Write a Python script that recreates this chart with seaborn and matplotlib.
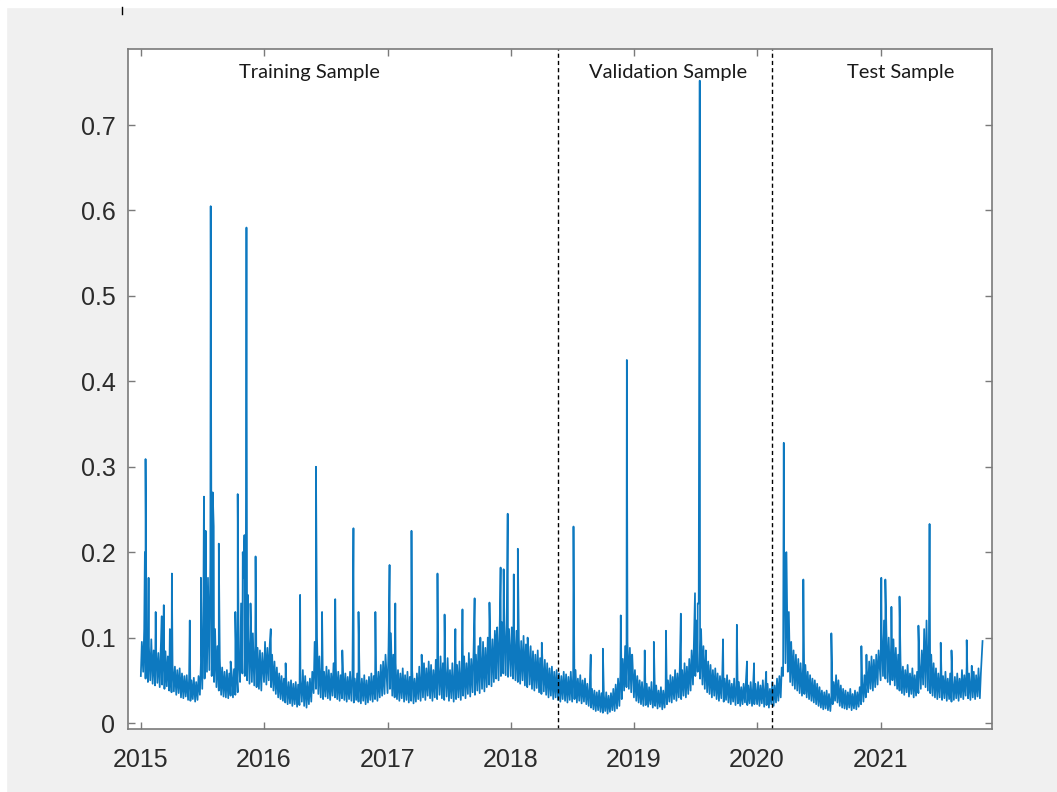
import pandas as pd
import seaborn as sns
import matplotlib.pyplot as plt
import matplotlib.dates as mdates
from matplotlib.lines import Line2D
from matplotlib.patches import Rectangle

# weekly band (lower / upper edge of the band, x1000)
lo_2015 = [55, 60, 52, 48, 50, 46, 44, 47, 42, 45, 40, 43, 38, 36, 37, 33, 35, 30, 29, 31, 27, 26, 28, 25, 27, 33,
           40, 52, 60, 62, 55, 48, 42, 38, 33, 31, 30, 29, 32, 30, 33, 36, 48, 58, 55, 50, 46, 48, 44, 42, 40, 38]
hi_2015 = [95, 110, 92, 90, 98, 85, 88, 82, 86, 80, 84, 78, 70, 68, 66, 62, 64, 58, 55, 56, 52, 50, 53, 48, 55, 70,
           110, 150, 170, 190, 130, 110, 90, 75, 65, 60, 62, 58, 60, 63, 68, 80, 140, 170, 160, 120, 100, 105, 90, 88, 85, 82]
lo_2016 = [48, 45, 50, 42, 38, 34, 30, 28, 26, 24, 22, 23, 20, 22, 19, 21, 25, 20, 18, 22, 25, 35, 40, 34, 30, 28,
           31, 29, 27, 32, 30, 28, 26, 29, 27, 25, 28, 26, 24, 27, 25, 23, 26, 22, 24, 27, 25, 28, 26, 30, 32, 34]
hi_2016 = [95, 88, 92, 80, 72, 65, 58, 55, 52, 50, 48, 50, 46, 48, 45, 50, 62, 55, 48, 52, 60, 95, 100, 78, 65, 60,
           66, 62, 58, 70, 64, 60, 56, 62, 58, 54, 60, 56, 52, 58, 55, 52, 56, 50, 54, 58, 55, 62, 60, 68, 72, 80]
lo_2017 = [35, 40, 32, 30, 28, 26, 29, 25, 27, 24, 26, 23, 25, 28, 26, 30, 27, 32, 29, 26, 30, 28, 33, 29, 27, 31,
           26, 29, 25, 28, 30, 27, 32, 29, 34, 31, 36, 33, 38, 35, 40, 37, 42, 45, 43, 48, 52, 50, 55, 58, 56, 54]
hi_2017 = [90, 105, 80, 70, 62, 58, 64, 56, 60, 54, 62, 52, 58, 66, 60, 70, 64, 72, 68, 62, 74, 66, 78, 70, 64, 76,
           62, 70, 60, 68, 72, 66, 78, 70, 82, 75, 86, 80, 90, 84, 95, 88, 100, 104, 98, 108, 112, 106, 118, 120, 115, 110]
lo_2018 = [55, 52, 50, 48, 46, 50, 44, 42, 45, 40, 38, 41, 36, 34, 37, 33, 30, 32, 28, 30, 27, 25, 28, 26, 24, 27,
           25, 28, 24, 26, 23, 25, 22, 20, 18, 16, 14, 15, 13, 12, 14, 11, 13, 15, 14, 17, 20, 28, 38, 42, 40, 36]
hi_2018 = [112, 105, 108, 100, 96, 102, 92, 88, 90, 84, 80, 85, 76, 72, 74, 70, 64, 66, 60, 62, 58, 55, 60, 57, 54, 60,
           56, 62, 52, 56, 50, 52, 46, 42, 40, 38, 36, 38, 35, 33, 36, 32, 35, 40, 45, 52, 60, 75, 90, 95, 88, 80]
lo_2019 = [30, 26, 24, 22, 20, 21, 19, 22, 18, 20, 17, 19, 16, 18, 22, 25, 24, 28, 26, 30, 28, 32, 30, 34, 38, 45,
           55, 60, 52, 45, 40, 36, 34, 30, 32, 28, 26, 29, 25, 27, 24, 22, 25, 21, 23, 20, 22, 24, 21, 23, 20, 22]
hi_2019 = [62, 55, 50, 48, 45, 46, 42, 48, 40, 44, 38, 42, 38, 42, 50, 56, 54, 62, 58, 66, 62, 70, 66, 75, 85, 100,
           120, 140, 110, 90, 80, 72, 68, 62, 64, 58, 55, 60, 52, 56, 50, 46, 52, 44, 48, 42, 46, 50, 44, 48, 42, 46]
lo_2020 = [22, 20, 23, 19, 21, 18, 22, 20, 24, 26, 30, 55, 70, 60, 48, 44, 40, 38, 35, 32, 34, 30, 28, 26, 24, 22,
           20, 18, 16, 17, 15, 14, 22, 26, 24, 20, 18, 17, 16, 18, 15, 17, 16, 19, 22, 25, 30, 36, 40, 38, 42, 45]
hi_2020 = [48, 44, 50, 42, 46, 40, 48, 44, 52, 55, 65, 160, 200, 130, 95, 85, 80, 75, 70, 65, 68, 60, 56, 52, 50, 46,
           42, 38, 36, 38, 34, 32, 48, 56, 50, 44, 40, 38, 36, 40, 34, 38, 36, 42, 50, 56, 64, 72, 78, 74, 80, 85]
lo_2021 = [50, 55, 52, 48, 45, 50, 44, 40, 38, 35, 33, 36, 31, 34, 30, 32, 35, 40, 45, 42, 38, 35, 32, 30, 28, 30,
           27, 29, 26, 28, 25, 27, 29, 26, 30, 28, 32, 29, 27, 30, 28, 31, 29]
hi_2021 = [105, 120, 110, 100, 92, 98, 88, 80, 72, 66, 62, 68, 58, 64, 56, 60, 70, 85, 110, 120, 95, 80, 70, 64, 58, 62,
           55, 60, 52, 58, 50, 54, 58, 52, 62, 56, 66, 58, 54, 60, 56, 64, 58]

years = [2015, 2016, 2017, 2018, 2019, 2020, 2021]
band_lo = [lo_2015, lo_2016, lo_2017, lo_2018, lo_2019, lo_2020, lo_2021]
band_hi = [hi_2015, hi_2016, hi_2017, hi_2018, hi_2019, hi_2020, hi_2021]

# single-day spikes
spike_dates = ['2015-01-13', '2015-01-15', '2015-01-24', '2015-02-14', '2015-03-04', '2015-03-10', '2015-03-28',
               '2015-04-03', '2015-05-26', '2015-06-28', '2015-07-07', '2015-07-12', '2015-07-27', '2015-08-02',
               '2015-08-05', '2015-08-20', '2015-09-24', '2015-10-08', '2015-10-15', '2015-10-30', '2015-11-04',
               '2015-11-10', '2015-11-14', '2015-11-22', '2015-12-07', '2016-01-21', '2016-03-05', '2016-04-17',
               '2016-06-03', '2016-06-21', '2016-07-30', '2016-08-20', '2016-09-22', '2016-10-07', '2016-11-26',
               '2017-01-07', '2017-01-24', '2017-03-13', '2017-04-12', '2017-05-29', '2017-06-19', '2017-07-21',
               '2017-08-11', '2017-09-16', '2017-10-03', '2017-10-30', '2017-11-20', '2017-12-02', '2017-12-11',
               '2017-12-23', '2018-01-10', '2018-01-22', '2018-02-20', '2018-03-01', '2018-04-03', '2018-07-06',
               '2018-08-26', '2018-10-01', '2018-11-23', '2018-12-11', '2018-12-26', '2019-02-02', '2019-03-01',
               '2019-04-06', '2019-05-20', '2019-07-01', '2019-07-09', '2019-07-15', '2019-08-02', '2019-09-22',
               '2019-11-02', '2019-12-02', '2019-12-23', '2020-01-28', '2020-03-20', '2020-03-22', '2020-05-17',
               '2020-08-08', '2020-11-05', '2020-11-20', '2021-01-03', '2021-01-15', '2021-02-02', '2021-02-26',
               '2021-04-23', '2021-05-26', '2021-06-28', '2021-07-30', '2021-09-13', '2021-09-28', '2021-10-30']
spike_vals = [0.200, 0.309, 0.170, 0.130, 0.125, 0.138, 0.110,
              0.175, 0.120, 0.170, 0.265, 0.225, 0.605, 0.270,
              0.230, 0.210, 0.072, 0.130, 0.268, 0.200, 0.220,
              0.580, 0.150, 0.140, 0.195, 0.110, 0.070, 0.150,
              0.300, 0.130, 0.145, 0.085, 0.228, 0.130, 0.130,
              0.185, 0.140, 0.225, 0.080, 0.175, 0.127, 0.110,
              0.133, 0.146, 0.100, 0.141, 0.100, 0.182, 0.180,
              0.245, 0.174, 0.204, 0.100, 0.090, 0.094, 0.230,
              0.080, 0.087, 0.126, 0.425, 0.080, 0.085, 0.095,
              0.108, 0.128, 0.152, 0.140, 0.752, 0.085, 0.098,
              0.115, 0.072, 0.070, 0.060, 0.328, 0.200, 0.168,
              0.105, 0.090, 0.080, 0.170, 0.168, 0.136, 0.148,
              0.114, 0.233, 0.094, 0.085, 0.097, 0.067, 0.096]

split_dates = ['2018-05-21', '2020-02-14']
sample_names = ['Training Sample', 'Validation Sample', 'Test Sample']
label_dates = ['2016-05-16', '2019-04-13', '2021-03-01']

# build the series
rows = []
for year, lo, hi in zip(years, band_lo, band_hi):
    start = pd.Timestamp(f'{year}-01-01')
    for k, (a, b) in enumerate(zip(lo, hi)):
        rows.append((start + pd.Timedelta(days=7 * k), a / 1000))
        rows.append((start + pd.Timedelta(days=7 * k + 3), b / 1000))
for d, v in zip(spike_dates, spike_vals):
    rows.append((pd.Timestamp(d), v))
df = pd.DataFrame(rows, columns=['date', 'value']).sort_values('date', kind='stable')

W, H = 1057, 792
fig = plt.figure(figsize=(W / 100, H / 100), dpi=100, facecolor='#f0f0f0')
ax = fig.add_axes([128 / W, (H - 729) / H, (992 - 128) / W, (729 - 49) / H])
ax.set_facecolor('white')

sns.lineplot(data=df, x='date', y='value', ax=ax, color='#0072BD', lw=1.25, alpha=0.95,
             estimator=None, sort=False)

for d in split_dates:
    ax.axvline(pd.Timestamp(d), color='black', lw=1.0, ls=(0, (3, 2.2)))

for name, d in zip(sample_names, label_dates):
    ax.text(pd.Timestamp(d), 0.762, name, ha='center', va='center', fontsize=14.5,
            family='Lato', color='#1a1a1a')

ax.set_xlim(pd.Timestamp('2014-11-24'), pd.Timestamp('2021-11-27'))
ax.set_ylim(-0.007, 0.789)
ax.xaxis.set_major_locator(mdates.YearLocator())
ax.xaxis.set_major_formatter(mdates.DateFormatter('%Y'))
yt = [0, 0.1, 0.2, 0.3, 0.4, 0.5, 0.6, 0.7]
ax.set_yticks(yt)
ax.set_yticklabels(['0'] + [f'{v:.1f}' for v in yt[1:]])
ax.set_xlabel('')
ax.set_ylabel('')

ax.tick_params(direction='in', top=True, right=True, length=5, width=1.0, color='#7a7a7a',
               labelsize=18, labelcolor='#2b2b2b', labelfontfamily='Liberation Sans')
ax.tick_params(axis='x', pad=14)
ax.tick_params(axis='y', pad=9)
for sp in ax.spines.values():
    sp.set_color('#7a7a7a')
    sp.set_linewidth(1.2)

# white margins and the stray mark at the top of the screenshot
fig.patches.append(Rectangle((0, 1 - 7 / H), 1, 7 / H, transform=fig.transFigure, color='white', zorder=0))
fig.patches.append(Rectangle((0, 0), 6 / W, 1, transform=fig.transFigure, color='white', zorder=0))
fig.add_artist(Line2D([122 / W, 122 / W], [1 - 7 / H, 1 - 14 / H], color='black', lw=1.0))

fig.savefig('out.png', dpi=100, facecolor=fig.get_facecolor())
